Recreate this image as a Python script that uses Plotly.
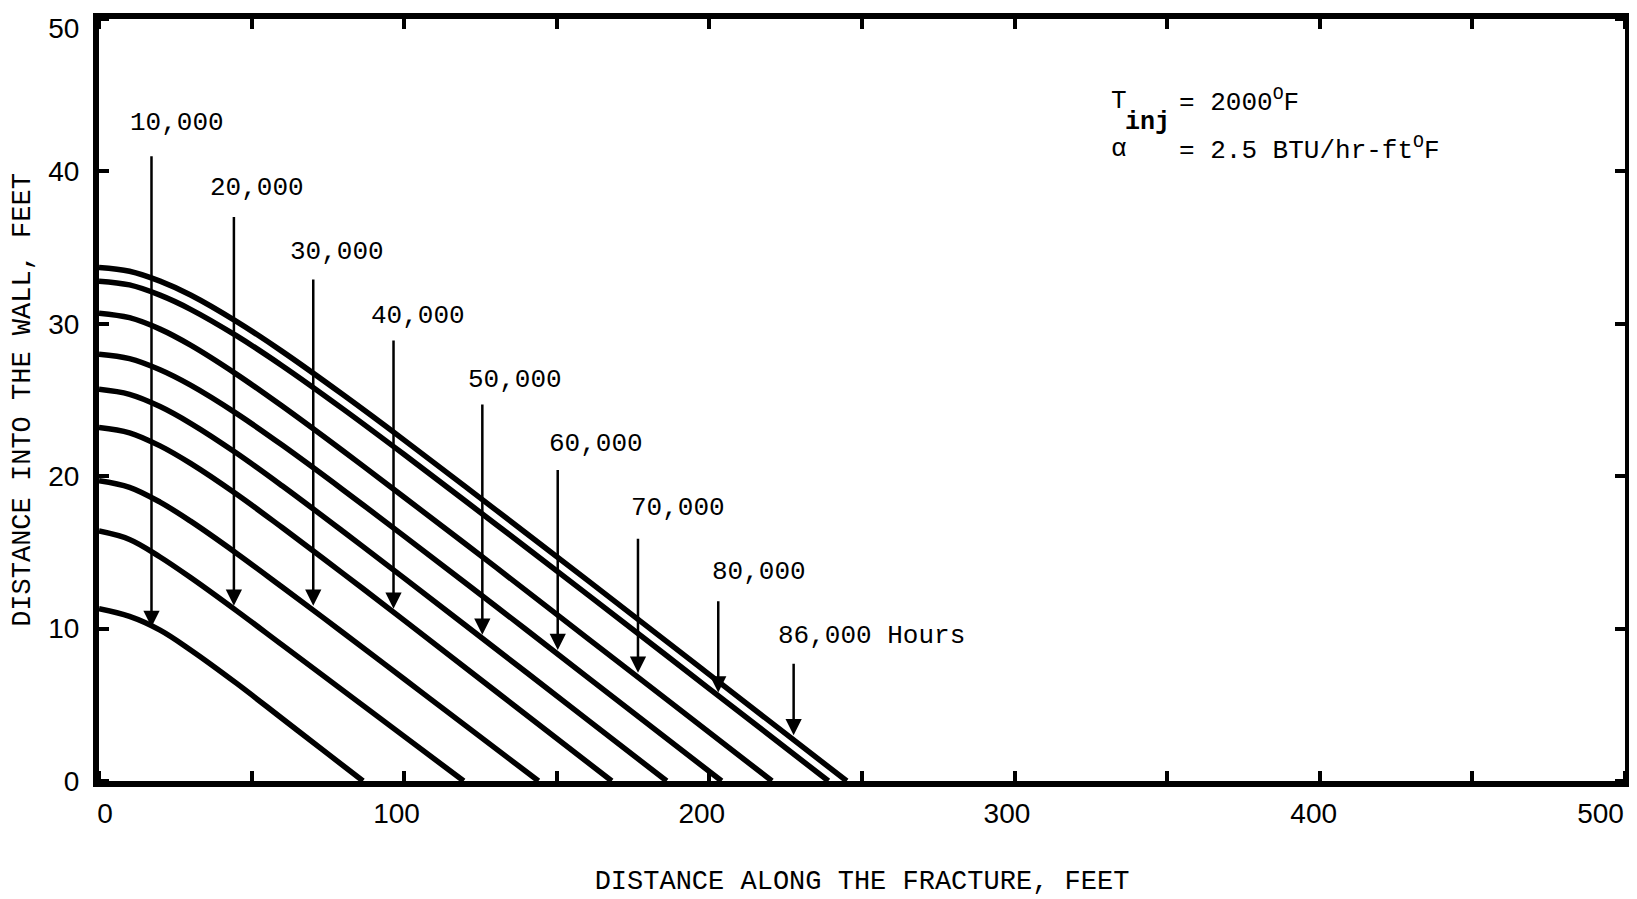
import plotly.graph_objects as go

# ---- data ----
hours = ["10,000", "20,000", "30,000", "40,000", "50,000", "60,000", "70,000", "80,000", "86,000"]

c10k_x = [0, 10, 20, 30, 45, 60, 75, 86.5]
c10k_y = [11.3, 10.8, 9.9, 8.6, 6.42, 4.1, 1.78, 0]

c20k_x = [0, 10, 20, 30, 45, 60, 80, 100, 119.5]
c20k_y = [16.4, 15.85, 14.7, 13.35, 11.18, 8.93, 5.93, 2.93, 0]

c30k_x = [0, 10, 20, 30, 45, 60, 80, 100, 120, 144]
c30k_y = [19.7, 19.27, 18.3, 17.05, 14.95, 12.73, 9.73, 6.69, 3.65, 0]

c40k_x = [0, 10, 20, 30, 45, 60, 80, 100, 130, 168]
c40k_y = [23.2, 22.85, 21.99, 20.84, 18.83, 16.63, 13.61, 10.54, 5.89, 0]

c50k_x = [0, 10, 20, 30, 45, 60, 80, 100, 130, 160, 186]
c50k_y = [25.7, 25.37, 24.57, 23.47, 21.52, 19.37, 16.37, 13.31, 8.68, 4.03, 0]

c60k_x = [0, 10, 20, 30, 45, 60, 80, 100, 130, 160, 204]
c60k_y = [28.0, 27.71, 26.98, 25.97, 24.12, 22.04, 19.10, 16.07, 11.47, 6.82, 0]

c70k_x = [0, 10, 20, 30, 45, 60, 80, 100, 130, 160, 190, 220.5]
c70k_y = [30.7, 30.40, 29.65, 28.60, 26.70, 24.60, 21.65, 18.62, 14.03, 9.38, 4.73, 0]

c80k_x = [0, 10, 20, 30, 45, 60, 80, 100, 130, 160, 200, 239]
c80k_y = [32.8, 32.55, 31.88, 30.95, 29.22, 27.25, 24.40, 21.42, 16.85, 12.25, 6.05, 0]

c86k_x = [0, 10, 20, 30, 45, 60, 80, 100, 130, 160, 200, 245]
c86k_y = [33.7, 33.45, 32.80, 31.89, 30.16, 28.19, 25.34, 22.37, 17.79, 13.18, 6.98, 0]

curves_x = [c10k_x, c20k_x, c30k_x, c40k_x, c50k_x, c60k_x, c70k_x, c80k_x, c86k_x]
curves_y = [c10k_y, c20k_y, c30k_y, c40k_y, c50k_y, c60k_y, c70k_y, c80k_y, c86k_y]

# arrow positions: x, tail y, head y
arrow_x = [17.2, 44.2, 70.2, 96.5, 125.6, 150.3, 176.6, 202.9, 227.6]
arrow_tail = [41.1, 37.1, 33.0, 29.0, 24.8, 20.5, 16.0, 11.9, 7.8]
arrow_head = [10.1, 11.5, 11.5, 11.3, 9.6, 8.6, 7.1, 5.8, 3.0]

# label positions (centres)
label_text = ["10,000", "20,000", "30,000", "40,000", "50,000", "60,000", "70,000", "80,000", "86,000 Hours"]
label_x = [25.6, 51.7, 78.1, 104.4, 136.2, 162.9, 189.6, 216.1, 253.1]
label_y = [43.2, 38.9, 34.7, 30.5, 26.3, 22.1, 17.9, 13.7, 9.5]

# tick labels as printed (slightly offset from their tick marks in the original)
x_labelvals = [2, 97.5, 197.5, 297.5, 398, 492]
x_ticktext = ["0", "100", "200", "300", "400", "500"]
y_labelvals = [0, 10, 20, 30, 40, 49.4]
y_ticktext = ["0", "10", "20", "30", "40", "50"]

MONO = "Liberation Mono, Courier New, monospace"
TICKF = "Liberation Sans Narrow, Liberation Sans, Arial, sans-serif"

fig = go.Figure()
for cx, cy, h in zip(curves_x, curves_y, hours):
    fig.add_trace(go.Scatter(
        x=cx, y=cy, mode="lines", name=h + " hours",
        line=dict(color="black", width=5.5, shape="spline", smoothing=1.0),
        showlegend=False, hoverinfo="skip"))

annotations = []
for xa, yt, yh in zip(arrow_x, arrow_tail, arrow_head):
    annotations.append(dict(
        x=xa, y=yh, ax=xa, ay=yt, xref="x", yref="y", axref="x", ayref="y",
        text="", showarrow=True, arrowhead=2, arrowsize=1.3, arrowwidth=2.5,
        arrowcolor="black", standoff=0, startstandoff=0))
for t, lx, ly in zip(label_text, label_x, label_y):
    annotations.append(dict(
        x=lx, y=ly, xref="x", yref="y", text=t, showarrow=False,
        xanchor="center", yanchor="middle",
        font=dict(family=MONO, size=26, color="black")))

# parameter box
annotations += [
    dict(x=331, y=44.6, xref="x", yref="y", text="T", showarrow=False,
         xanchor="left", yanchor="middle", font=dict(family=MONO, size=26, color="black")),
    dict(x=335.5, y=43.2, xref="x", yref="y", text="<b>inj</b>", showarrow=False,
         xanchor="left", yanchor="middle", font=dict(family=MONO, size=25, color="black")),
    dict(x=353.2, y=44.6, xref="x", yref="y", text="= 2000<sup>O</sup>F", showarrow=False,
         xanchor="left", yanchor="middle", font=dict(family=MONO, size=26, color="black")),
    dict(x=331, y=41.5, xref="x", yref="y", text="α", showarrow=False,
         xanchor="left", yanchor="middle", font=dict(family=MONO, size=26, color="black")),
    dict(x=353.2, y=41.5, xref="x", yref="y", text="= 2.5 BTU/hr-ft<sup>O</sup>F", showarrow=False,
         xanchor="left", yanchor="middle", font=dict(family=MONO, size=26, color="black")),
]

fig.update_layout(
    width=1629, height=891,
    margin=dict(l=91, r=12, t=11, b=118, autoexpand=False),
    paper_bgcolor="white", plot_bgcolor="white",
    annotations=annotations,
    xaxis=dict(
        range=[0, 500], tickmode="array", tickvals=x_labelvals, ticktext=x_ticktext,
        ticks="",
        minor=dict(ticks="inside", dtick=50, tick0=0, ticklen=10, tickwidth=4, tickcolor="black", showgrid=False),
        showline=True, linecolor="black", linewidth=6, mirror="ticks",
        showgrid=False, zeroline=False, ticklabelstandoff=2, automargin=False,
        ticklabeloverflow="allow",
        tickfont=dict(family=TICKF, size=28, color="black"),
        title=dict(text="DISTANCE ALONG THE FRACTURE, FEET", standoff=45,
                   font=dict(family=MONO, size=27, color="black")),
    ),
    yaxis=dict(
        range=[0, 50], tickmode="array", tickvals=y_labelvals, ticktext=y_ticktext,
        ticks="",
        minor=dict(ticks="inside", dtick=10, tick0=0, ticklen=10, tickwidth=4, tickcolor="black", showgrid=False),
        showline=True, linecolor="black", linewidth=6, mirror="ticks",
        showgrid=False, zeroline=False, ticklabelstandoff=8, automargin=False,
        ticklabeloverflow="allow",
        tickfont=dict(family=TICKF, size=28, color="black"),
        title=dict(text="DISTANCE INTO THE WALL, FEET", standoff=13,
                   font=dict(family=MONO, size=27, color="black")),
    ),
)

fig.write_html("out.html")
